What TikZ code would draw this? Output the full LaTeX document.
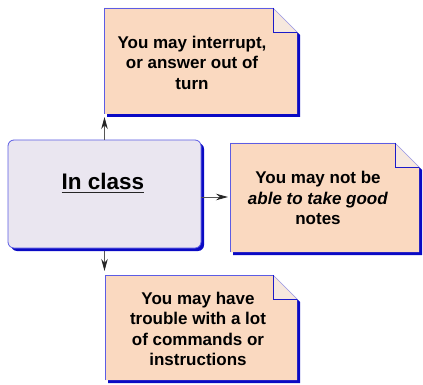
\documentclass[tikz,border=0pt]{standalone}
\usepackage{fontspec}
\setmainfont{Liberation Sans}
\usetikzlibrary{arrows.meta,shadows,backgrounds}
\definecolor{notefill}{HTML}{FAD9C0}
\definecolor{foldfill}{HTML}{F6E8DE}
\definecolor{edgeblue}{HTML}{5C5CE4}
\definecolor{foldedge}{HTML}{9A9AE8}
\definecolor{shadowblue}{HTML}{0A0AC4}
\definecolor{boxfill}{HTML}{EAE6F0}
\definecolor{connline}{HTML}{555555}
\newcommand\dogearnote[1]{%
  \fill[shadowblue] ([shift={(3pt,-3pt)}]#1.north west) -- ([shift={(-21pt,-3pt)}]#1.north east)
     -- ([shift={(3pt,-27pt)}]#1.north east) -- ([shift={(3pt,-3pt)}]#1.south east)
     -- ([shift={(3pt,-3pt)}]#1.south west) -- cycle;
  \path[fill=notefill] (#1.north west) -- ([xshift=-24pt]#1.north east)
     -- ([yshift=-24pt]#1.north east) -- (#1.south east) -- (#1.south west) -- cycle;
  \draw[edgeblue, line width=0.7pt] ([xshift=-24pt]#1.north east) -- (#1.north west) -- (#1.south west);
  \fill[foldfill] ([xshift=-24pt]#1.north east) -- ([xshift=-24pt,yshift=-24pt]#1.north east) -- ([yshift=-24pt]#1.north east) -- cycle;
  \draw[foldedge, line width=0.6pt] ([xshift=-24pt]#1.north east) -- ([yshift=-24pt]#1.north east);
  \draw[shadowblue!80!edgeblue, line width=0.8pt] ([xshift=-24pt]#1.north east) -- ([xshift=-24pt,yshift=-24pt]#1.north east) -- ([yshift=-24pt]#1.north east);
}
\tikzset{
  notearea/.style={inner sep=0pt, outer sep=0pt},
  notetext/.style={font=\bfseries\fontsize{17}{20.5}\selectfont, align=center, text=black, inner sep=0pt},
  mainbox/.style={draw=edgeblue, line width=0.8pt, fill=boxfill, rounded corners=6pt,
    minimum width=193pt, minimum height=108pt, inner sep=0pt, outer sep=0pt,
    drop shadow={shadow xshift=3pt, shadow yshift=-3pt, fill=shadowblue, opacity=1}},
  maintextstyle/.style={font=\bfseries\fontsize{22.5}{27}\selectfont, text=black, inner sep=0pt},
  conn/.style={draw=connline, line width=0.8pt, -{Stealth[length=12pt,width=6.5pt,color=black!85]}}
}
\begin{document}
\begin{tikzpicture}[x=1pt,y=-1pt]
\useasboundingbox (0,0) rectangle (423,385);
% note areas
\node[notearea, minimum width=193pt, minimum height=106pt] (topnote) at (200.5,61) {};
\node[notearea, minimum width=189pt, minimum height=109pt] (rightnote) at (324.5,197.5) {};
\node[notearea, minimum width=192pt, minimum height=105pt] (bottomnote) at (201,327.5) {};
\begin{scope}[on background layer]
  \dogearnote{topnote}
  \dogearnote{rightnote}
  \dogearnote{bottomnote}
\end{scope}
% main box
\node[mainbox] (main) at (104.5,194) {};
\node[maintextstyle] (maintext) at (103,181.5) {In class};
\draw[black!85, line width=1.8pt] ([yshift=-3pt]maintext.base west) -- ([yshift=-3pt]maintext.base east);
% note texts
\node[notetext] (toptext) at (192,62.5) {You may interrupt,\\or answer out of\\turn};
\node[notetext] (righttext) at (318,198) {You may not be\\\textit{able to take good}\\notes};
\node[notetext] (bottomtext) at (198,329) {You may have\\trouble with a lot\\of commands or\\instructions};
% connectors
\draw[conn, shorten >=3pt] (main.north) -- (main.north |- topnote.south);
\draw[conn, shorten >=2pt] ([yshift=-3pt]main.east) -- ([yshift=-3pt]main.east -| rightnote.west);
\draw[conn, shorten >=4pt] ([yshift=-3pt]main.south) -- (main.south |- bottomnote.north);
\end{tikzpicture}
\end{document}
